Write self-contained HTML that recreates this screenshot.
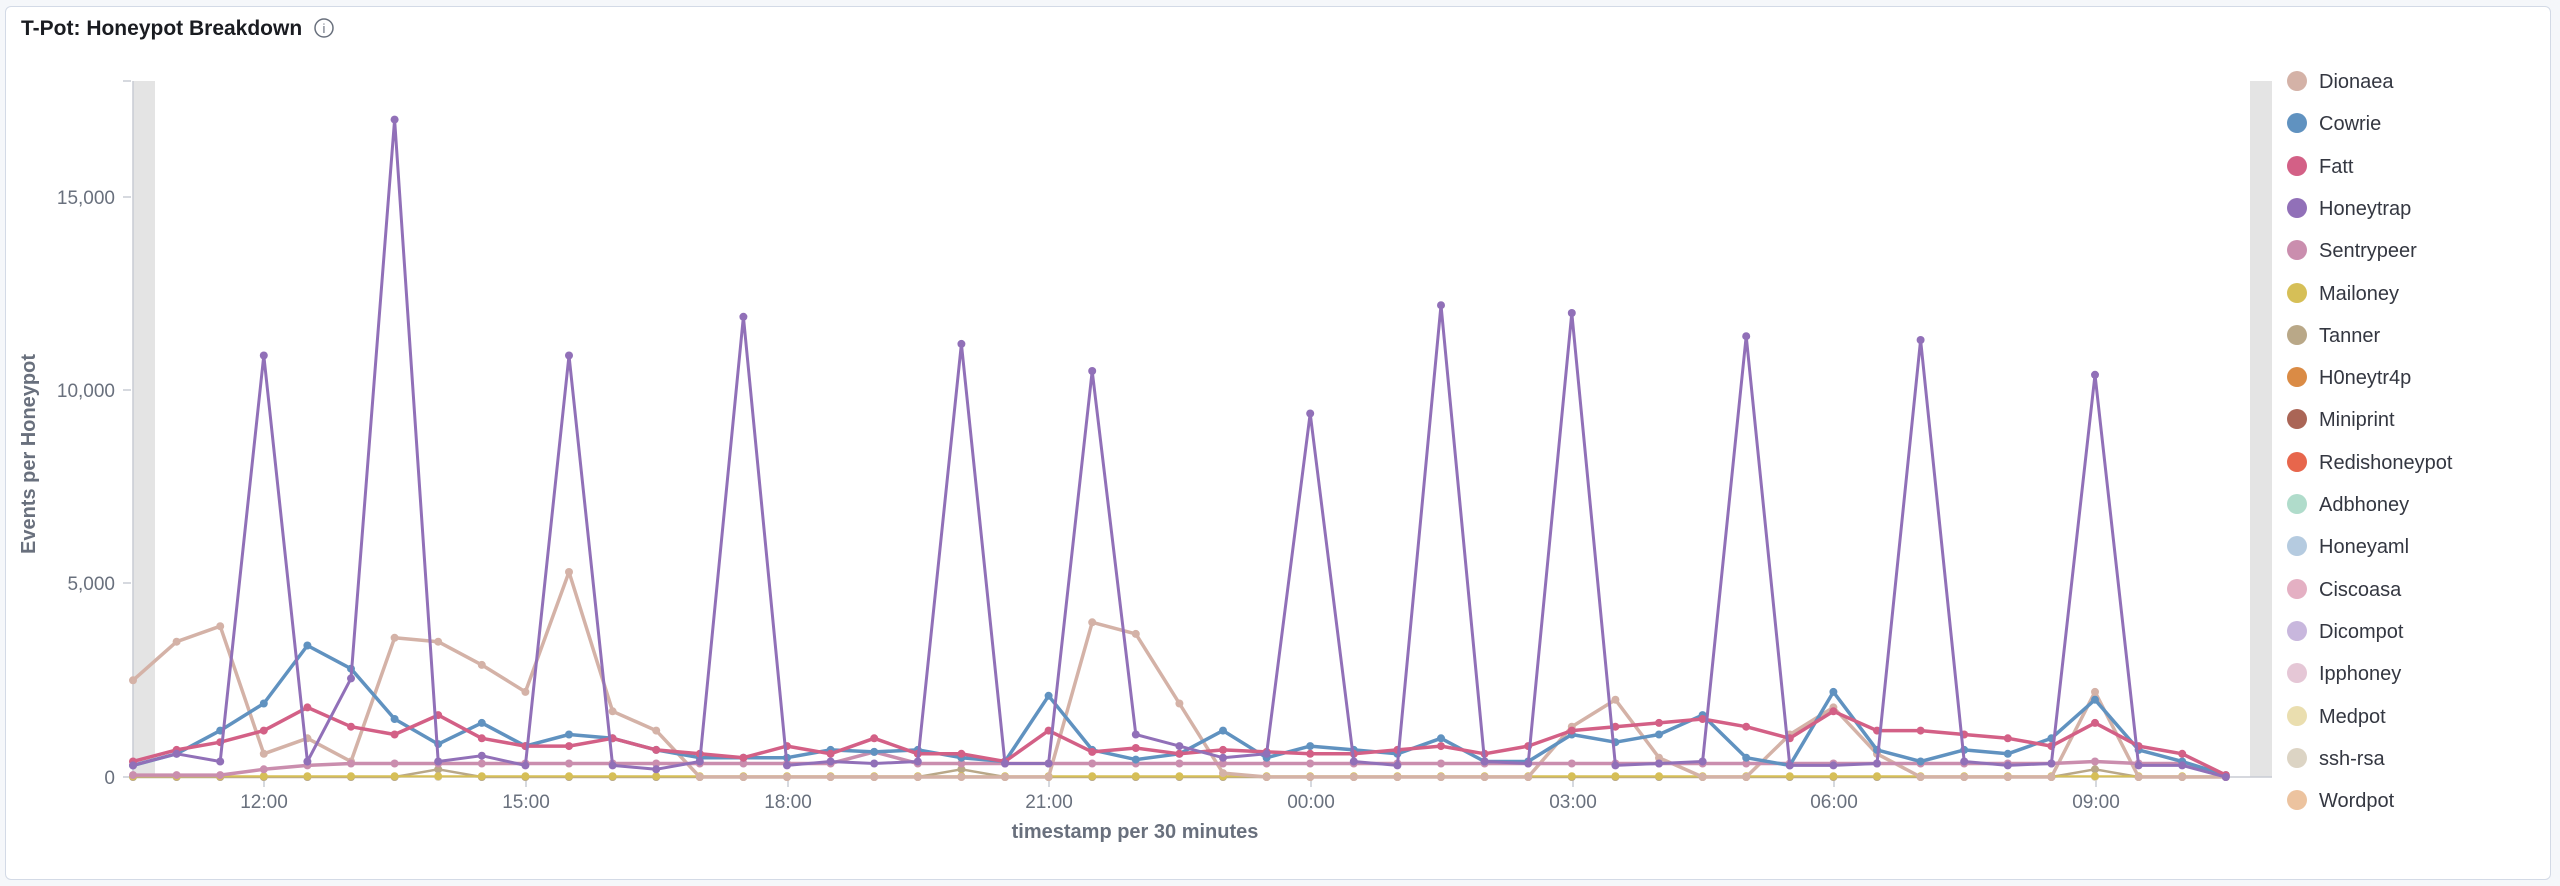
<!DOCTYPE html>
<html><head><meta charset="utf-8"><style>
body{margin:0;background:#f5f7fa;width:2560px;height:886px;overflow:hidden;font-family:"Liberation Sans",sans-serif}
#card{position:absolute;left:5px;top:6px;width:2546px;height:874px;background:#fff;border:1px solid #d3dae6;border-radius:6px;box-sizing:border-box}
</style></head><body>
<div id="card"></div>
<svg id="s" width="2560" height="886" style="position:absolute;left:0;top:0" font-family="Liberation Sans, sans-serif">
<text x="21" y="35" font-size="21" font-weight="bold" fill="#1a1c21">T-Pot: Honeypot Breakdown</text>
<circle cx="324" cy="28" r="9" fill="none" stroke="#69707d" stroke-width="1.5"/>
<text x="324" y="33" font-size="13" text-anchor="middle" fill="#69707d">i</text>
<rect x="133" y="81" width="22" height="696" fill="#e4e4e4"/>
<rect x="2250" y="81" width="22" height="696" fill="#e4e4e4"/>
<line x1="133" y1="81" x2="133" y2="777" stroke="#c8ccd4" stroke-width="1.5"/>
<line x1="133" y1="777" x2="2272" y2="777" stroke="#c8ccd4" stroke-width="1.5"/>
<g fill="#69707d" font-size="19" text-anchor="end">
<text x="115" y="204">15,000</text><text x="115" y="397">10,000</text><text x="115" y="590">5,000</text><text x="115" y="784">0</text>
</g>
<g stroke="#c8ccd4" stroke-width="1.5"><line x1="123" y1="197" x2="131" y2="197"/><line x1="123" y1="390" x2="131" y2="390"/><line x1="123" y1="583" x2="131" y2="583"/><line x1="123" y1="777" x2="131" y2="777"/><line x1="123" y1="81" x2="131" y2="81"/>
<line x1="264" y1="777" x2="264" y2="787"/><line x1="526" y1="777" x2="526" y2="787"/><line x1="788" y1="777" x2="788" y2="787"/><line x1="1049" y1="777" x2="1049" y2="787"/><line x1="1311" y1="777" x2="1311" y2="787"/><line x1="1573" y1="777" x2="1573" y2="787"/><line x1="1834" y1="777" x2="1834" y2="787"/><line x1="2096" y1="777" x2="2096" y2="787"/></g>
<g fill="#69707d" font-size="19" text-anchor="middle">
<text x="264" y="808">12:00</text><text x="526" y="808">15:00</text><text x="788" y="808">18:00</text><text x="1049" y="808">21:00</text><text x="1311" y="808">00:00</text><text x="1573" y="808">03:00</text><text x="1834" y="808">06:00</text><text x="2096" y="808">09:00</text>
</g>
<text x="1135" y="838" font-size="20" font-weight="bold" fill="#69707d" text-anchor="middle">timestamp per 30 minutes</text>
<text transform="translate(35,454) rotate(-90)" font-size="20" font-weight="bold" fill="#69707d" text-anchor="middle">Events per Honeypot</text>
<g id="series"></g>
<g font-size="20" fill="#343741">
<circle cx="2297" cy="81" r="10" fill="#d4b2a7"/><text x="2319" y="88">Dionaea</text>
<circle cx="2297" cy="123" r="10" fill="#6092c0"/><text x="2319" y="130">Cowrie</text>
<circle cx="2297" cy="166" r="10" fill="#d36086"/><text x="2319" y="173">Fatt</text>
<circle cx="2297" cy="208" r="10" fill="#9170b8"/><text x="2319" y="215">Honeytrap</text>
<circle cx="2297" cy="250" r="10" fill="#ca8eae"/><text x="2319" y="257">Sentrypeer</text>
<circle cx="2297" cy="293" r="10" fill="#d6bf57"/><text x="2319" y="300">Mailoney</text>
<circle cx="2297" cy="335" r="10" fill="#b9a888"/><text x="2319" y="342">Tanner</text>
<circle cx="2297" cy="377" r="10" fill="#da8b45"/><text x="2319" y="384">H0neytr4p</text>
<circle cx="2297" cy="419" r="10" fill="#aa6556"/><text x="2319" y="426">Miniprint</text>
<circle cx="2297" cy="462" r="10" fill="#e7664c"/><text x="2319" y="469">Redishoneypot</text>
<circle cx="2297" cy="504" r="10" fill="#b0dccb"/><text x="2319" y="511">Adbhoney</text>
<circle cx="2297" cy="546" r="10" fill="#b5cbe0"/><text x="2319" y="553">Honeyaml</text>
<circle cx="2297" cy="589" r="10" fill="#e4b0c3"/><text x="2319" y="596">Ciscoasa</text>
<circle cx="2297" cy="631" r="10" fill="#c8b7dd"/><text x="2319" y="638">Dicompot</text>
<circle cx="2297" cy="673" r="10" fill="#e5c7d6"/><text x="2319" y="680">Ipphoney</text>
<circle cx="2297" cy="716" r="10" fill="#eadeaf"/><text x="2319" y="723">Medpot</text>
<circle cx="2297" cy="758" r="10" fill="#dcd4c4"/><text x="2319" y="765">ssh-rsa</text>
<circle cx="2297" cy="800" r="10" fill="#ecc39f"/><text x="2319" y="807">Wordpot</text>
</g>
</svg>
<script>
var S=[
["#dcd4c4",2,Array(49).fill(0)],
["#b9a888",2.5,[0,0,0,0,0,0,0,200,0,0,0,0,0,0,0,0,0,0,0,200,0,0,0,0,0,0,0,0,0,0,0,0,0,0,0,0,0,0,0,0,0,0,0,0,0,200,0,0,0]],
["#d6bf57",2,Array(49).fill(20)],
["#d4b2a7",3.5,[2500,3500,3900,600,1000,400,3600,3500,2900,2200,5300,1700,1200,0,0,0,0,0,0,0,0,0,4000,3700,1900,100,0,0,0,0,0,0,0,1300,2000,500,0,0,1100,1800,600,0,0,0,0,2200,0,0,0]],
["#ca8eae",3.5,[50,50,50,200,300,350,350,350,350,350,350,350,350,350,350,350,350,650,350,350,350,350,350,350,350,350,350,350,350,350,350,350,350,350,350,350,350,350,350,350,350,350,350,350,350,400,350,350,0]],
["#6092c0",3.5,[300,600,1200,1900,3400,2800,1500,850,1400,800,1100,1000,700,500,500,500,700,650,700,500,400,2100,700,450,600,1200,500,800,700,600,1000,400,400,1100,900,1100,1600,500,300,2200,700,400,700,600,1000,2000,700,400,50]],
["#d36086",3.5,[400,700,900,1200,1800,1300,1100,1600,1000,800,800,1000,700,600,500,800,600,1000,600,600,400,1200,650,750,600,700,650,600,600,700,800,600,800,1200,1300,1400,1500,1300,1000,1700,1200,1200,1100,1000,800,1400,800,600,50]],
["#9170b8",3,[300,600,400,10900,400,2550,17000,400,550,300,10900,300,200,400,11900,300,400,350,400,11200,350,350,10500,1100,800,500,600,9400,400,300,12200,400,350,12000,300,350,400,11400,300,300,350,11300,400,300,350,10400,300,300,0]]
];
var g=document.getElementById('series'),h='';
S.forEach(function(s){var p=s[2].map(function(v,i){return [133+i*43.6,777-v*0.03867]});
h+='<polyline fill="none" stroke="'+s[0]+'" stroke-width="'+s[1]+'" stroke-linejoin="round" points="'+p.map(function(q){return q[0].toFixed(1)+','+q[1].toFixed(1)}).join(' ')+'"/>';
p.forEach(function(q){h+='<circle cx="'+q[0].toFixed(1)+'" cy="'+q[1].toFixed(1)+'" r="4" fill="'+s[0]+'"/>'});});
g.innerHTML=h;
</script>
</body></html>
